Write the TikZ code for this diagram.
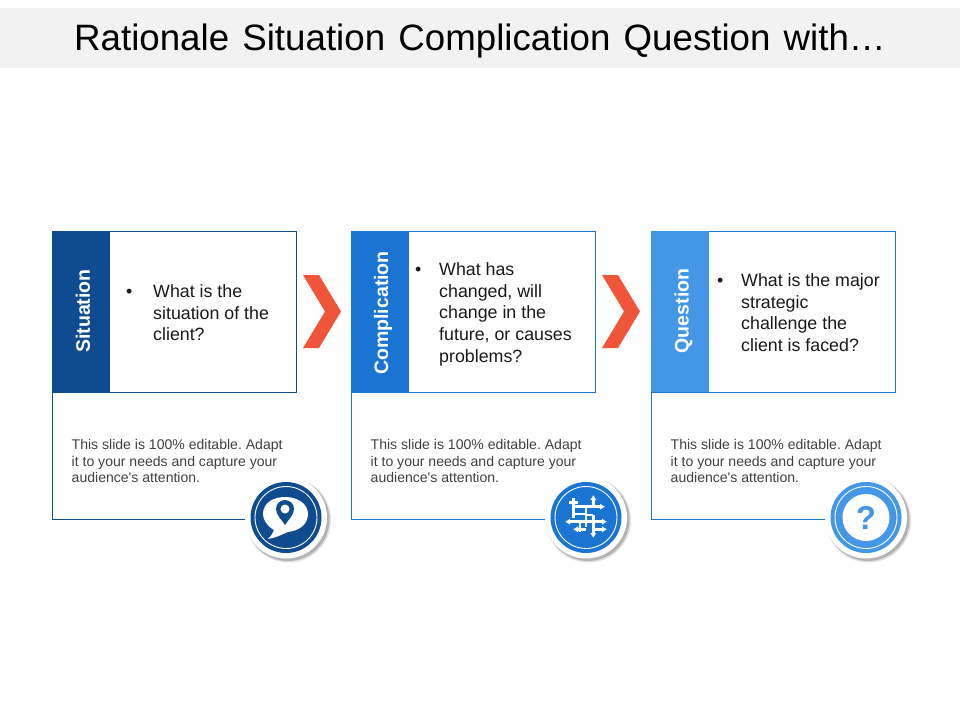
\documentclass[tikz,border=0pt]{standalone}
\usepackage{fontspec}
\setmainfont[Ligatures=TeXOff]{Liberation Sans}
\usetikzlibrary{arrows.meta}
\definecolor{bluedark}{HTML}{0F4C8F}
\definecolor{bluemid}{HTML}{1A75D2}
\definecolor{bluelight}{HTML}{4496E6}
\definecolor{chevron}{HTML}{F0553A}
\definecolor{titleband}{HTML}{F2F2F2}
\definecolor{bodytext}{HTML}{404040}
\frenchspacing
\tikzset{
  headbar/.style={minimum width=58pt,minimum height=161pt,inner sep=0pt,outer sep=0pt,text=white,font=\bfseries\fontsize{19.5}{22}\selectfont},
  panelbox/.style={minimum width=244pt,minimum height=161pt,inner sep=0pt,outer sep=0pt,anchor=north west,line width=.8pt},
  bullettext/.style={anchor=north west,inner sep=0pt,text=black!90,align=left,font=\fontsize{17.8}{21.6}\selectfont},
  smalltext/.style={anchor=north west,inner sep=0pt,text=bodytext,align=left,font=\fontsize{14.05}{16.7}\selectfont},
  badge/.style={circle,fill=white,minimum size=82pt,inner sep=0pt},
  badgecore/.style={circle,minimum size=71pt,inner sep=0pt},
  badgering/.style={circle,draw=white,line width=.9pt,minimum size=62pt,inner sep=0pt},
  gridline/.style={draw=white,line width=2.5pt},
  gridarrow/.style={gridline,-{Latex[length=5pt,width=6.5pt]}}
}
\begin{document}
\begin{tikzpicture}[x=1pt,y=-1pt]
  \useasboundingbox (0,0) rectangle (960,720);

  \node[fill=titleband,minimum width=960pt,minimum height=60pt,inner sep=0pt] (band) at (480,38) {};
  \node[font=\fontsize{36.7}{40}\selectfont,inner sep=0pt,text=black] (title) at (480,41) {Rationale\hspace{3pt} Situation\hspace{3pt} Complication\hspace{3pt} Question\hspace{3pt} with…};

  % panels
  \begin{scope}[every node/.style={panelbox}]
    \node[draw=bluedark] (box1) at (52,231.5) {};
    \node[draw=bluemid] (box2) at (351,231.5) {};
    \node[draw=bluemid] (box3) at (651,231.5) {};
  \end{scope}

  \node[headbar,fill=bluedark] (head1) at (81,311.5) {};
  \node[headbar,fill=bluemid] (head2) at (380,311.5) {};
  \node[headbar,fill=bluelight] (head3) at (680,311.5) {};
  \node[headbar,minimum height=0pt,minimum width=0pt] (lab1) at (83,311) {\rotatebox{90}{Situation}};
  \node[headbar,minimum height=0pt,minimum width=0pt] (lab2) at (383,313) {\rotatebox{90}{Complication}};
  \node[headbar,minimum height=0pt,minimum width=0pt] (lab3) at (683.5,311) {\rotatebox{90}{Question}};

  % lower frames
  \coordinate (low1) at (52,519.5);
  \coordinate (low2) at (351,519.5);
  \coordinate (low3) at (651,519.5);
  \draw[bluedark,line width=.8pt] (box1.south west) -- (low1) -- (286,519.5);
  \draw[bluemid,line width=.8pt] (box2.south west) -- (low2) -- (586,519.5);
  \draw[bluemid,line width=.8pt] (box3.south west) -- (low3) -- (866,519.5);

  % chevrons
  \fill[chevron] (303,275) -- (319,275) -- (341,311.5) -- (319,348) -- (303,348) -- (325,311.5) -- cycle;
  \fill[chevron] (602,275) -- (618,275) -- (640,311.5) -- (618,348) -- (602,348) -- (624,311.5) -- cycle;

  % texts
  \begin{scope}[every node/.style={bullettext}]
    \node (dot1) at (126,284.5) {•\vphantom{h}};
    \node (text1) at (153,284.5) {What is the\\situation of the\\client?};
    \node (dot2) at (415,262.5) {•\vphantom{h}};
    \node (text2) at (439,262.5) {What has\\changed, will\\change in the\\future, or causes\\problems?};
    \node (dot3) at (717,273.5) {•\vphantom{h}};
    \node (text3) at (741,273.5) {What is the major\\strategic\\challenge the\\client is faced?};
  \end{scope}
  \begin{scope}[every node/.style={smalltext}]
    \node (note1) at (71.5,439) {This slide is 100\% editable. Adapt\\it to your needs and capture your\\audience's attention.};
    \node (note2) at (370.5,439) {This slide is 100\% editable. Adapt\\it to your needs and capture your\\audience's attention.};
    \node (note3) at (670.5,439) {This slide is 100\% editable. Adapt\\it to your needs and capture your\\audience's attention.};
  \end{scope}

  % badges
  \foreach \name/\cx/\col in {a/286/bluedark,b/586/bluemid,c/866/bluelight}{
    \fill[black,opacity=.12] (\cx+2.5,520) circle (42.5);
    \fill[black,opacity=.2] (\cx+2,519.5) circle (41.5);
    \node[badge] (\name) at (\cx,517.5) {};
    \node[badgecore,fill=\col] (\name core) at (\cx,517.5) {};
    \node[badgering] (\name ring) at (\cx,517.5) {};
  }

  % speech bubble
  \fill[white] (268,539) .. controls (271,536) and (273,533) .. (274,530)
    .. controls (267,526) and (263,520) .. (263,514)
    .. controls (263,503) and (273,497) .. (285,497)
    .. controls (298,497) and (308,504) .. (308,514)
    .. controls (308,525) and (298,531) .. (288,532)
    .. controls (281,535) and (275,538) .. (268,539) -- cycle;
  \fill[bluedark] (285,525) .. controls (282,520) and (276,515) .. (276,509)
    arc[start angle=180,end angle=360,radius=9]
    .. controls (294,515) and (288,520) .. (285,525) -- cycle;
  \fill[white] (285,509) circle (4.5);

  % grid icon
  \draw[gridline] (573.3,498.3) -- (573.3,518.3);
  \draw[gridline] (569,502.7) -- (578,502.7);
  \draw[gridarrow] (593.3,508) -- (593.3,495);
  \draw[gridarrow] (573.3,506.7) -- (605,506.7);
  \draw[gridline] (573.3,514) -- (587.3,514);
  \draw[gridarrow] (586,521.7) -- (565,521.7);
  \draw[gridarrow] (586,521.7) -- (607,521.7);
  \draw[gridline] (586,506.7) -- (586,526.7);
  \draw[gridline] (586,515) -- (593.3,515);
  \draw[gridarrow] (593.3,515) -- (593.3,538);
  \draw[gridarrow] (586,529.3) -- (573,529.3);
  \draw[gridarrow] (593.3,529.3) -- (607,529.3);
  \draw[gridline] (580,521.7) -- (580,531.7);

  % question mark
  \node[circle,fill=white,minimum size=47pt,inner sep=0pt] (qdisc) at (866,517.5) {};
  \node[text=bluelight,font=\bfseries\fontsize{33}{33}\selectfont,inner sep=0pt] (qmark) at (866,517.5) {?};
\end{tikzpicture}
\end{document}
